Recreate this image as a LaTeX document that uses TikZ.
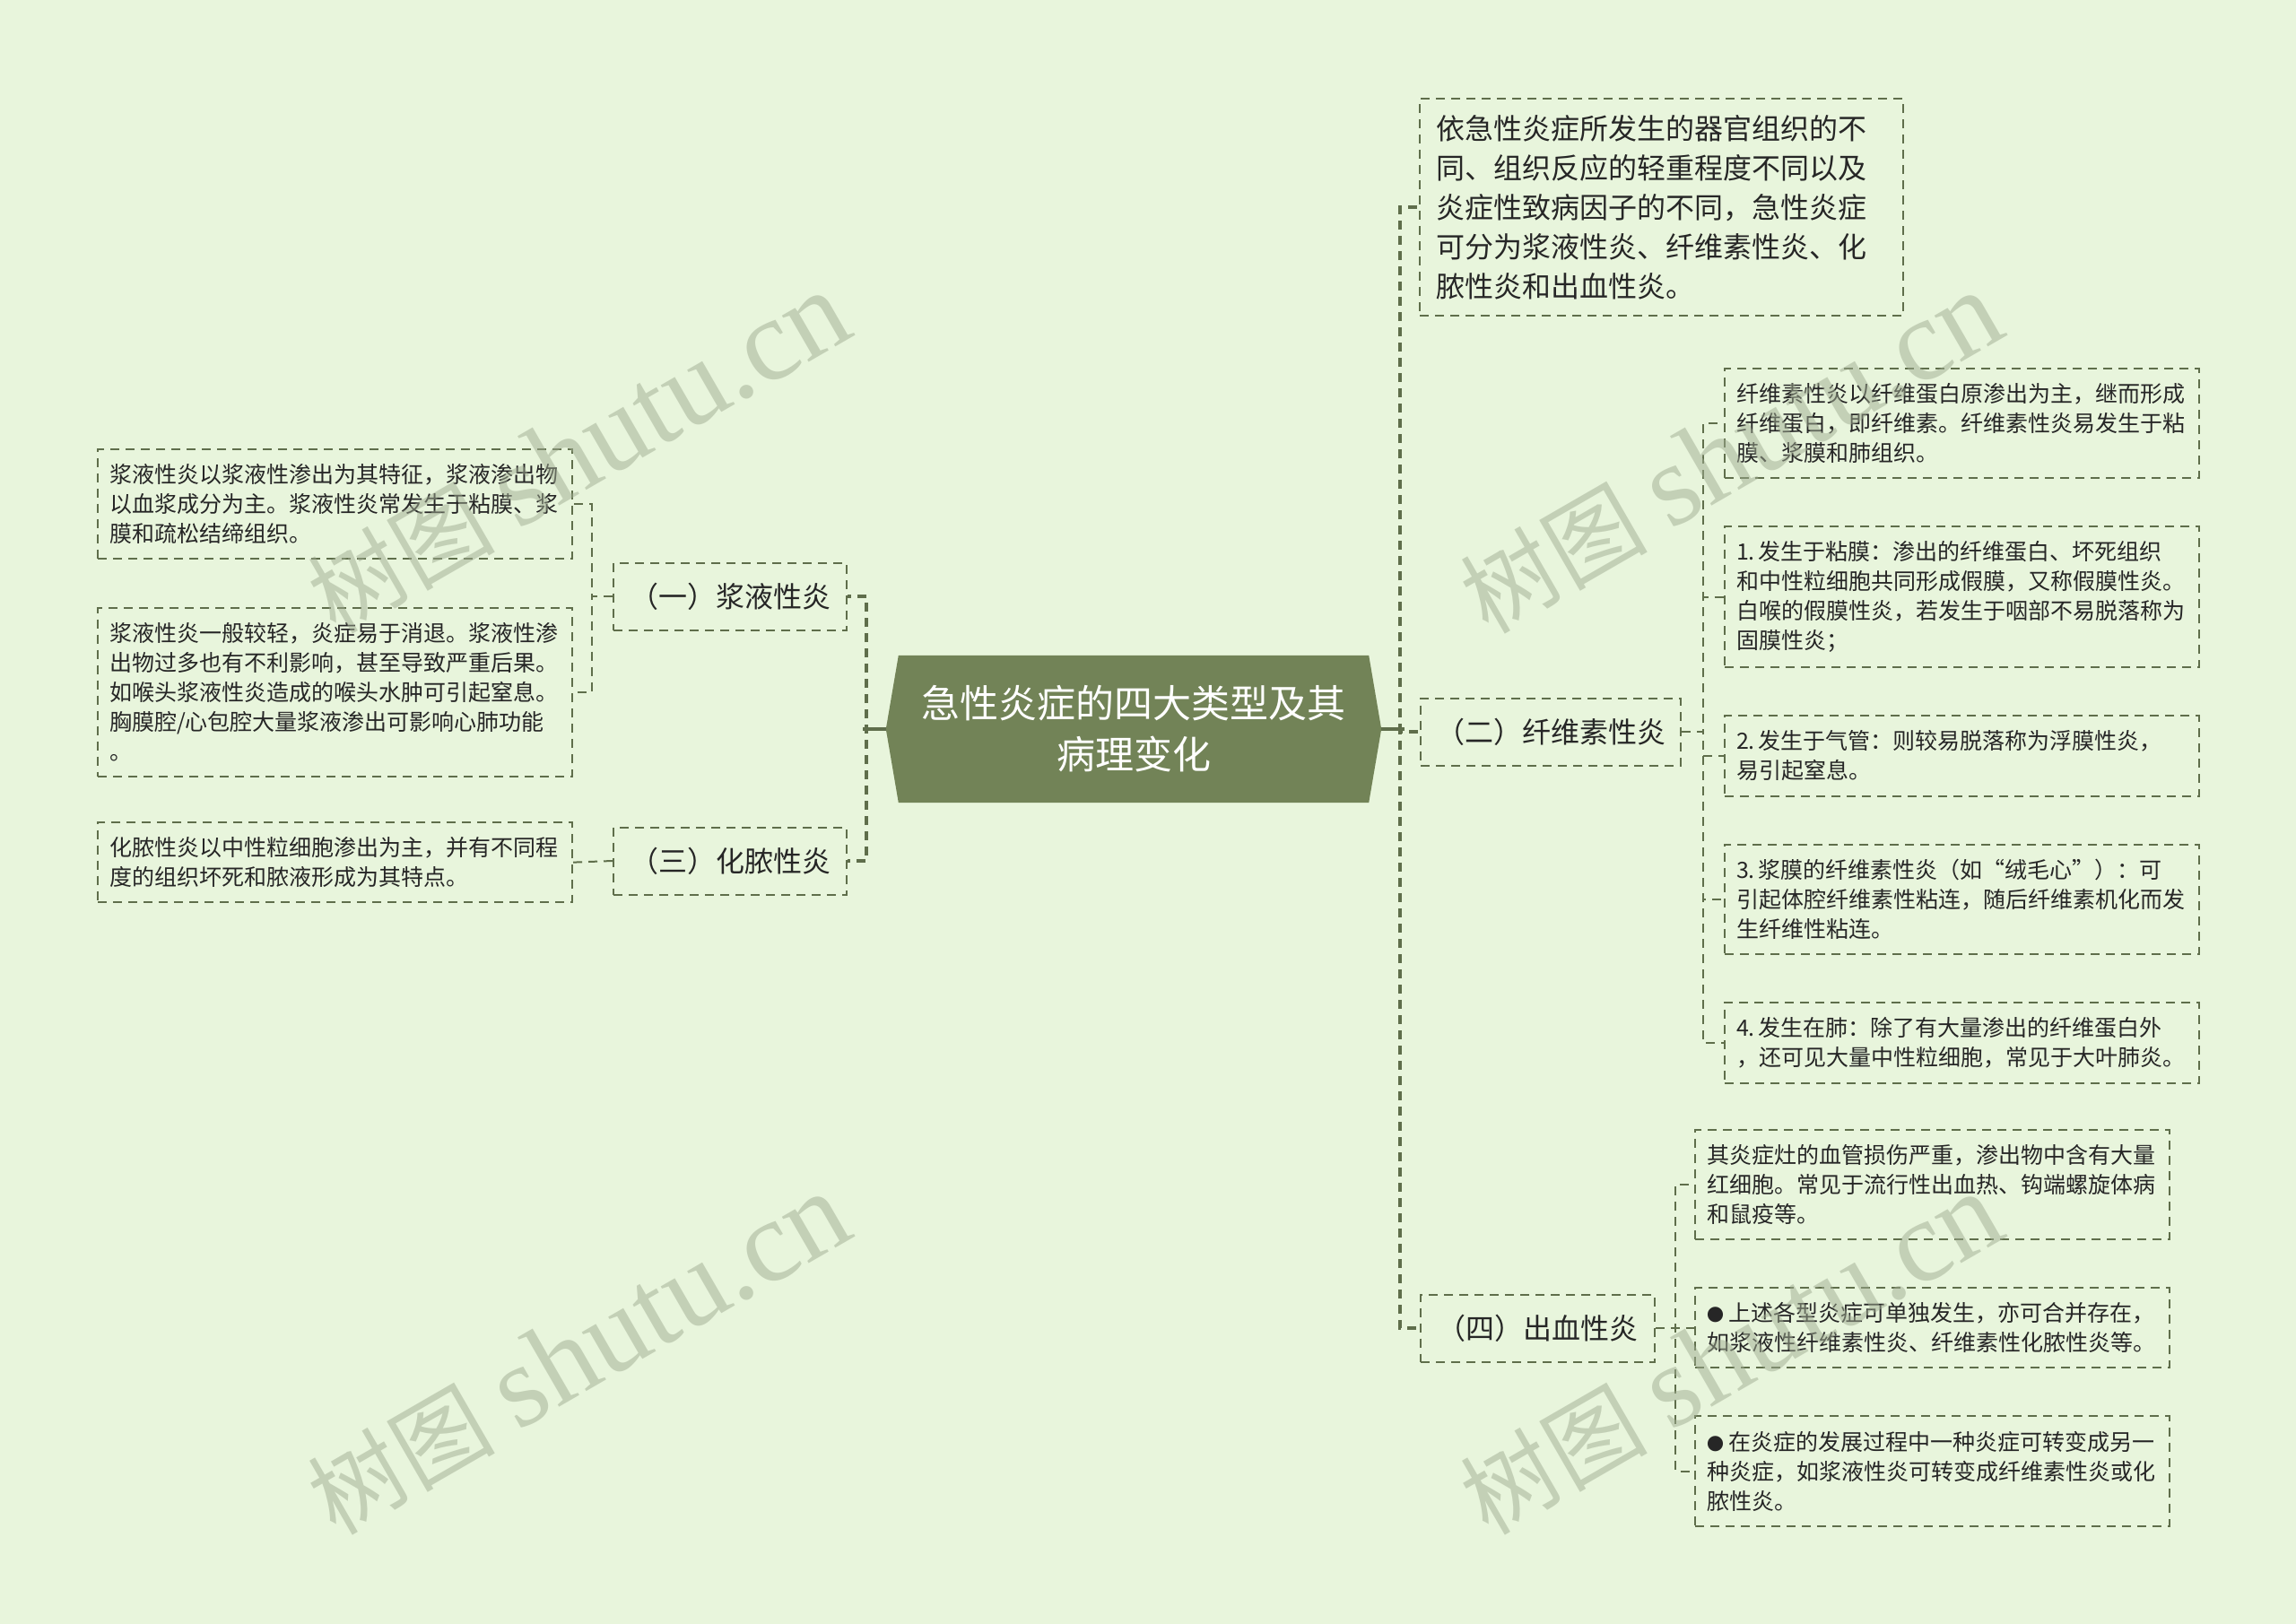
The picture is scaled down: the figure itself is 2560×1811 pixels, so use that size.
\documentclass[tikz,border=0pt]{standalone}
\usepackage{fontspec}
\setmainfont{Noto Sans CJK SC}
\newfontfamily\wmserif{Liberation Serif}
\usepackage{tikz}
\usetikzlibrary{positioning,backgrounds}
\definecolor{bgcol}{RGB}{232,245,220}
\definecolor{olive}{RGB}{95,110,75}
\definecolor{hubcol}{RGB}{114,131,87}
\definecolor{inkcol}{RGB}{38,38,38}
\definecolor{wmcol}{RGB}{160,172,146}
\tikzstyle{box}=[draw=olive,line width=2pt,dash pattern=on 10pt off 7pt,text=inkcol]
\tikzstyle{branch}=[box,minimum height=75pt,inner xsep=16pt,font=\fontsize{32pt}{40pt}\selectfont]
\tikzstyle{leaf}=[box,align=left,text width=503pt,inner xsep=13pt,inner ysep=16.5pt,font=\fontsize{25pt}{33pt}\selectfont]
\tikzstyle{note}=[box,align=left,text width=503pt,inner xsep=18pt,inner ysep=18pt,font=\fontsize{32pt}{44pt}\selectfont]
\tikzstyle{hub}=[minimum width=552pt,minimum height=164pt,align=center,text=white,font=\fontsize{43pt}{57pt}\selectfont]
\tikzstyle{link}=[draw=olive,line width=2pt,dash pattern=on 10pt off 7pt]
\tikzstyle{hublink}=[link,line width=3.5pt]
\tikzstyle{wmark}=[text=wmcol,opacity=.5,rotate=30]
\newcommand{\wmtext}{{\fontsize{104pt}{104pt}\selectfont 树图}\hspace{26pt}{\wmserif\fontsize{130pt}{130pt}\selectfont shutu.cn}}
\newcommand{\dotmark}{{\fontsize{19pt}{19pt}\selectfont ●}\hspace{5pt}}

\begin{document}
\begin{tikzpicture}[x=1pt,y=-1pt]
	\useasboundingbox (0,0) rectangle (2560,1811);
	% centre
	\node[hub](hub) at (1264,813){急性炎症的四大类型及其\\病理变化};
	% left branches
	\node[branch,minimum width=260pt](serous) at (814,665){（一）浆液性炎};
	\node[branch,minimum width=260pt](purul) at (814,960){（三）化脓性炎};
	\node[leaf,anchor=north west](s1) at (108,500){浆液性炎以浆液性渗出为其特征，浆液渗出物\\以血浆成分为主。浆液性炎常发生于粘膜、浆\\膜和疏松结缔组织。};
	\node[leaf,below=53pt of s1.south west,anchor=north west](s2){浆液性炎一般较轻，炎症易于消退。浆液性渗\\出物过多也有不利影响，甚至导致严重后果。\\如喉头浆液性炎造成的喉头水肿可引起窒息。\\胸膜腔/心包腔大量浆液渗出可影响心肺功能\\。};
	\node[leaf,anchor=north west](p1) at (108,916){化脓性炎以中性粒细胞渗出为主，并有不同程\\度的组织坏死和脓液形成为其特点。};
	% right branches
	\node[note,anchor=north west](intro) at (1582,109){依急性炎症所发生的器官组织的不\\同、组织反应的轻重程度不同以及\\炎症性致病因子的不同，急性炎症\\可分为浆液性炎、纤维素性炎、化\\脓性炎和出血性炎。};
	\node[branch,minimum width=290pt](fibrin) at (1729,816){（二）纤维素性炎};
	\node[branch,minimum width=261pt](hemo) at (1714.5,1481){（四）出血性炎};
	\node[leaf,anchor=north west](f1) at (1922,410){纤维素性炎以纤维蛋白原渗出为主，继而形成\\纤维蛋白，即纤维素。纤维素性炎易发生于粘\\膜、浆膜和肺组织。};
	\node[leaf,below=52pt of f1.south west,anchor=north west](f2){1.\hspace{4pt}发生于粘膜：渗出的纤维蛋白、坏死组织\\和中性粒细胞共同形成假膜，又称假膜性炎。\\白喉的假膜性炎，若发生于咽部不易脱落称为\\固膜性炎；};
	\node[leaf,below=52pt of f2.south west,anchor=north west](f3){2.\hspace{4pt}发生于气管：则较易脱落称为浮膜性炎，\\易引起窒息。};
	\node[leaf,below=52pt of f3.south west,anchor=north west](f4){3.\hspace{4pt}浆膜的纤维素性炎（如“绒毛心”）：可\\引起体腔纤维素性粘连，随后纤维素机化而发\\生纤维性粘连。};
	\node[leaf,below=52pt of f4.south west,anchor=north west](f5){4.\hspace{4pt}发生在肺：除了有大量渗出的纤维蛋白外\\，还可见大量中性粒细胞，常见于大叶肺炎。};
	\node[leaf,anchor=north west](h1) at (1889,1259){其炎症灶的血管损伤严重，渗出物中含有大量\\红细胞。常见于流行性出血热、钩端螺旋体病\\和鼠疫等。};
	\node[leaf,below=52pt of h1.south west,anchor=north west](h2){\dotmark 上述各型炎症可单独发生，亦可合并存在，\\如浆液性纤维素性炎、纤维素性化脓性炎等。};
	\node[leaf,below=52pt of h2.south west,anchor=north west](h3){\dotmark 在炎症的发展过程中一种炎症可转变成另一\\种炎症，如浆液性炎可转变成纤维素性炎或化\\脓性炎。};
	% connectors
	\foreach \b in {serous,purul}
		\draw[hublink](hub.west) -- ++(-22,0) |- (\b.east);
	\foreach \b in {intro,fibrin,hemo}
		\draw[hublink](hub.east) -- ++(21,0) |- (\b.west);
	\draw[olive,line width=3.5pt](hub.west) -- ++(-26,0);
	\draw[olive,line width=3.5pt](hub.east) -- ++(26,0);
	\foreach \l in {s1,s2}
		\draw[link](serous.west) -- ++(-23.5,0) |- (\l.east);
	\draw[link](purul.west) -- (p1.east);
	\foreach \l in {f1,f2,f3,f4,f5}
		\draw[link](fibrin.east) -- ++(24,0) |- (\l.west);
	\foreach \l in {h1,h2,h3}
		\draw[link](hemo.east) -- ++(22,0) |- (\l.west);
	\begin{scope}[on background layer]
		\fill[bgcol](0,0) rectangle (2560,1811);
		\fill[hubcol]([xshift=14pt]hub.north west) -- ([xshift=-14pt]hub.north east) -- (hub.east)
			-- ([xshift=-14pt]hub.south east) -- ([xshift=14pt]hub.south west) -- (hub.west) -- cycle;
	\end{scope}
	% watermarks
	\node[wmark](wm1) at (645,505){\wmtext};
	\node[wmark](wm2) at (645,1510){\wmtext};
	\node[wmark](wm3) at (1930,505){\wmtext};
	\node[wmark](wm4) at (1930,1510){\wmtext};
\end{tikzpicture}
\end{document}
